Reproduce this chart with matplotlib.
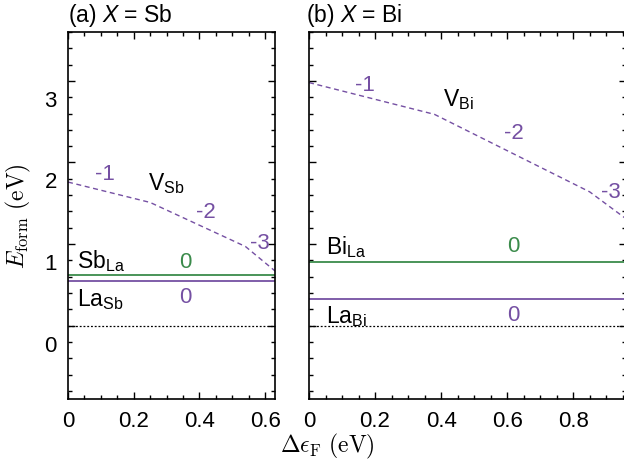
import numpy as np
import matplotlib.pyplot as plt
from matplotlib.ticker import MultipleLocator, FixedLocator
from matplotlib.transforms import ScaledTranslation

plt.rcParams['font.family'] = 'Liberation Sans'
plt.rcParams['mathtext.fontset'] = 'custom'
plt.rcParams['mathtext.rm'] = 'Liberation Sans'
plt.rcParams['mathtext.it'] = 'Liberation Sans:italic'
plt.rcParams['mathtext.bf'] = 'Liberation Sans:bold'

PURPLE = '#7550a3'
GREEN = '#3b8b4b'

# ---- datos ----
# (a) X = Sb
vsb_x = [0.0, 0.25, 0.54, 0.63]
vsb_y = [1.76, 1.51, 0.97, 0.67]
sb_la = 0.62
la_sb = 0.55

# (b) X = Bi
vbi_x = [0.0, 0.38, 0.85, 0.96]
vbi_y = [2.98, 2.59, 1.64, 1.31]
bi_la = 0.78
la_bi = 0.325

ref_line = 0.0
xmax = [0.63, 0.96]
ylim = (-0.9, 3.6)
yticks = [0, 1, 2, 3]

fig = plt.figure(figsize=(6.24, 4.77), dpi=100)
ax1 = fig.add_axes([68 / 624, 1 - 400 / 477, 207 / 624, 367 / 477])
ax2 = fig.add_axes([309 / 624, 1 - 400 / 477, 317 / 624, 367 / 477])

for ax, xm in zip([ax1, ax2], xmax):
    ax.set_xlim(0, xm)
    ax.set_ylim(*ylim)
    ax.xaxis.set_major_locator(MultipleLocator(0.2))
    ax.xaxis.set_minor_locator(MultipleLocator(0.05))
    ax.yaxis.set_major_locator(FixedLocator(yticks))
    ax.yaxis.set_minor_locator(MultipleLocator(0.2))
    ax.tick_params(which='both', direction='in', top=True, right=True,
                   labelsize=16, width=1, pad=8)
    ax.tick_params(which='major', length=5)
    ax.tick_params(which='minor', length=3)
    ax.xaxis.set_major_formatter(lambda v, p: '0' if abs(v) < 1e-9 else f'{v:.1f}')
    for s in ax.spines.values():
        s.set_linewidth(1.2)
    ax.axhline(ref_line, color='k', lw=0.9, ls=(0, (1.5, 1.5)))

ax2.tick_params(labelleft=False)

# (a)
ax1.axhline(sb_la, color=GREEN, lw=1.3)
ax1.axhline(la_sb, color=PURPLE, lw=1.3)
ax1.plot(vsb_x, vsb_y, color=PURPLE, lw=1.0, ls=(0, (3.6, 2.6)))
ax1.text(0.113, 1.86, '-1', color=PURPLE, fontsize=16, ha='center', va='center')
ax1.text(0.42, 1.40, '-2', color=PURPLE, fontsize=16, ha='center', va='center')
ax1.text(0.585, 1.02, '-3', color=PURPLE, fontsize=16, ha='center', va='center')
ax1.text(0.243, 1.76, r'V$_{\rm Sb}$', fontsize=16.5, ha='left', va='center')
ax1.text(0.027, 0.80, r'Sb$_{\rm La}$', fontsize=16.5, ha='left', va='center')
ax1.text(0.356, 0.79, '0', color=GREEN, fontsize=16, ha='center', va='center')
ax1.text(0.027, 0.33, r'La$_{\rm Sb}$', fontsize=16.5, ha='left', va='center')
ax1.text(0.356, 0.36, '0', color=PURPLE, fontsize=16, ha='center', va='center')

# (b)
ax2.axhline(bi_la, color=GREEN, lw=1.3)
ax2.axhline(la_bi, color=PURPLE, lw=1.3)
ax2.plot(vbi_x, vbi_y, color=PURPLE, lw=1.0, ls=(0, (3.6, 2.6)))
ax2.text(0.17, 2.96, '-1', color=PURPLE, fontsize=16, ha='center', va='center')
ax2.text(0.62, 2.37, '-2', color=PURPLE, fontsize=16, ha='center', va='center')
ax2.text(0.915, 1.65, '-3', color=PURPLE, fontsize=16, ha='center', va='center')
ax2.text(0.405, 2.78, r'V$_{\rm Bi}$', fontsize=16.5, ha='left', va='center')
ax2.text(0.05, 0.98, r'Bi$_{\rm La}$', fontsize=16.5, ha='left', va='center')
ax2.text(0.62, 0.98, '0', color=GREEN, fontsize=16, ha='center', va='center')
ax2.text(0.05, 0.12, r'La$_{\rm Bi}$', fontsize=16.5, ha='left', va='center')
ax2.text(0.62, 0.14, '0', color=PURPLE, fontsize=16, ha='center', va='center')

# titulos de panel
ax1.text(0.0, 1.03, '(a) $X$ = Sb', transform=ax1.transAxes, fontsize=16.5,
         ha='left', va='baseline')
ax2.text(-0.01, 1.03, '(b) $X$ = Bi', transform=ax2.transAxes, fontsize=16.5,
         ha='left', va='baseline')

# etiquetas de ejes (serif, estilo LaTeX)
ax1.set_ylabel(r'$E_{\rm form}\ ({\rm eV})$', math_fontfamily='cm',
               fontsize=17, labelpad=8)
fig.text(0.524, 0.064, r'$\Delta\epsilon_{\rm F}\ ({\rm eV})$', math_fontfamily='cm',
         fontsize=17, ha='center', va='center')

# las etiquetas del eje y aparecen desplazadas hacia abajo en el original
for lbl in ax1.get_yticklabels():
    lbl.set_transform(lbl.get_transform() + ScaledTranslation(0, -0.17, fig.dpi_scale_trans))

fig.savefig('out.png', dpi=100)
